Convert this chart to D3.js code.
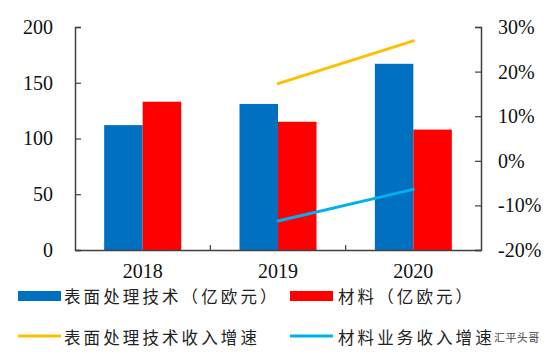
<!DOCTYPE html>
<html>
<head>
<meta charset="utf-8">
<script src="https://cdn.jsdelivr.net/npm/d3@7"></script>
<style>
  html, body { margin: 0; padding: 0; background: #fff; }
  svg { display: block; }
  .num { font-family: "Liberation Serif", serif; font-size: 20px; fill: #111; }
  .leg { font-family: "Noto Sans CJK SC", sans-serif; font-size: 16.5px; fill: #222; letter-spacing: 3.1px; }
  .mark { font-family: "Noto Sans CJK SC", sans-serif; font-size: 11px; fill: #444; letter-spacing: 0.4px; }
</style>
</head>
<body>
<div id="chart"></div>
<script>
const years = ["2018", "2019", "2020"];
const surfaceRevenue = [112, 131, 167];
const materialRevenue = [133, 115, 108];
const surfaceGrowth = [null, 17.3, 26.9];
const materialGrowth = [null, -13.5, -6.4];
const leftTicks = [0, 50, 100, 150, 200];
const rightTicks = [-20, -10, 0, 10, 20, 30];

const width = 554, height = 360;
const margin = { top: 27, right: 73, bottom: 110, left: 75 };

const svg = d3.select("#chart").append("svg")
  .attr("width", width)
  .attr("height", height);

const x = d3.scaleBand().domain(years)
  .range([margin.left, width - margin.right]);
const yLeft = d3.scaleLinear().domain([0, 200])
  .range([height - margin.bottom, margin.top]);
const yRight = d3.scaleLinear().domain([-20, 30])
  .range([height - margin.bottom, margin.top]);

const barWidth = 38.5;

// bars
svg.append("g").selectAll("rect").data(years).enter().append("rect")
  .attr("x", (d) => x(d) + x.bandwidth() / 2 - barWidth)
  .attr("y", (d, i) => yLeft(surfaceRevenue[i]))
  .attr("width", barWidth)
  .attr("height", (d, i) => yLeft(0) - yLeft(surfaceRevenue[i]))
  .attr("fill", "#0070c0");

svg.append("g").selectAll("rect").data(years).enter().append("rect")
  .attr("x", (d) => x(d) + x.bandwidth() / 2)
  .attr("y", (d, i) => yLeft(materialRevenue[i]))
  .attr("width", barWidth)
  .attr("height", (d, i) => yLeft(0) - yLeft(materialRevenue[i]))
  .attr("fill", "#ff0000");

// growth lines
const line = d3.line()
  .defined((d) => d !== null)
  .x((d, i) => x(years[i]) + x.bandwidth() / 2)
  .y((d) => yRight(d));

svg.append("path").attr("d", line(surfaceGrowth))
  .attr("fill", "none").attr("stroke", "#ffc000")
  .attr("stroke-width", 3).attr("stroke-linecap", "round");
svg.append("path").attr("d", line(materialGrowth))
  .attr("fill", "none").attr("stroke", "#00b0f0")
  .attr("stroke-width", 3).attr("stroke-linecap", "round");

// axes
const axisLeft = svg.append("g")
  .attr("transform", `translate(${margin.left},0)`)
  .call(d3.axisLeft(yLeft).tickValues(leftTicks).tickSize(-6).tickPadding(22));
const axisRight = svg.append("g")
  .attr("transform", `translate(${width - margin.right},0)`)
  .call(d3.axisRight(yRight).tickValues(rightTicks).tickSize(-6).tickPadding(17)
    .tickFormat((d) => d + "%"));
const axisBottom = svg.append("g")
  .attr("transform", `translate(0,${height - margin.bottom})`)
  .call(d3.axisBottom(x).tickSize(0).tickPadding(14));

// category separators sit between the bands
axisBottom.selectAll(".sep").data(years.slice(1)).enter().append("line")
  .attr("class", "sep")
  .attr("x1", (d) => x(d)).attr("x2", (d) => x(d))
  .attr("y1", 0).attr("y2", -5)
  .attr("stroke", "#404040").attr("stroke-width", 1.2);

[axisLeft, axisRight, axisBottom].forEach((a) => {
  a.attr("font-family", null).attr("font-size", null);
  a.selectAll("text").attr("class", "num");
  a.selectAll(".domain").attr("stroke", "#404040").attr("stroke-width", 1.5);
  a.selectAll(".tick line").attr("stroke", "#404040").attr("stroke-width", 1.2);
});

// legend
const legendBars = [
  { label: "表面处理技术（亿欧元）", color: "#0070c0", x: 18, tx: 64 },
  { label: "材料（亿欧元）", color: "#ff0000", x: 290, tx: 338 },
];
const legendLines = [
  { label: "表面处理技术收入增速", color: "#ffc000", x: 18, tx: 64 },
  { label: "材料业务收入增速", color: "#00b0f0", x: 290, tx: 338 },
];

legendBars.forEach((d) => {
  svg.append("rect").attr("x", d.x).attr("y", 291)
    .attr("width", 43).attr("height", 10).attr("fill", d.color);
  svg.append("text").attr("class", "leg").attr("x", d.tx).attr("y", 303).text(d.label);
});
legendLines.forEach((d) => {
  svg.append("line").attr("x1", d.x).attr("x2", d.x + 43)
    .attr("y1", 336).attr("y2", 336)
    .attr("stroke", d.color).attr("stroke-width", 3);
  svg.append("text").attr("class", "leg").attr("x", d.tx).attr("y", 344).text(d.label);
});

// watermark
svg.append("text").attr("class", "mark").attr("x", 494).attr("y", 342).text("汇平头哥");
</script>
</body>
</html>
